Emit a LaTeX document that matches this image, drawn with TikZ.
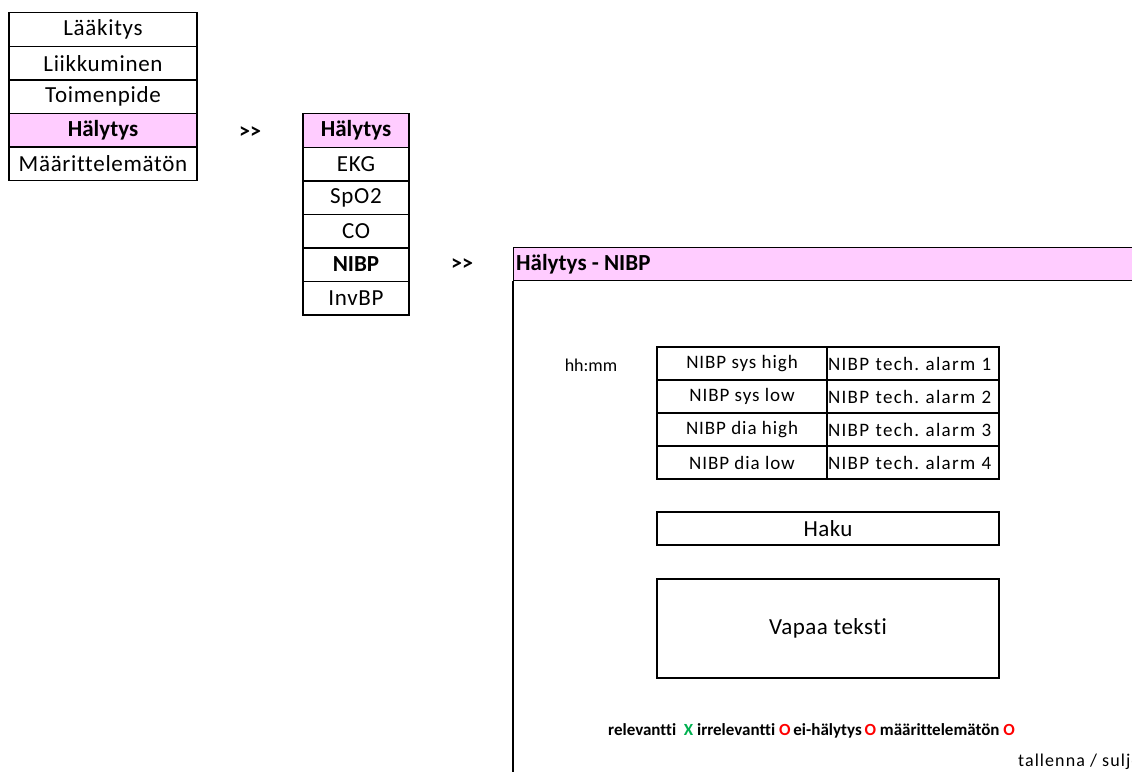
\documentclass[tikz,border=0pt]{standalone}
\usepackage{fontspec}
\setmainfont[Ligatures={NoCommon}]{Carlito}
\frenchspacing
\definecolor{menupink}{HTML}{FFCCFF}
\definecolor{relgreen}{HTML}{00B050}
\definecolor{irrred}{HTML}{FF0000}
\tikzset{
  menuitem/.style={draw, line width=1.4pt, inner sep=0pt, minimum height=33.6pt,
    font=\fontsize{23}{25}\selectfont\addfontfeature{LetterSpace=3}},
  boldmenu/.style={menuitem, font=\fontsize{23}{25}\selectfont\bfseries},
  cell/.style={draw, line width=1.2pt, inner sep=0pt, minimum height=33pt,
    font=\fontsize{19}{21}\selectfont\addfontfeature{LetterSpace=5}},
  techcell/.style={cell, text width=170pt, inner xsep=1pt, align=left,
    font=\fontsize{19}{21}\selectfont\addfontfeature{LetterSpace=7}},
  field/.style={draw, line width=1.4pt, inner sep=0pt, minimum width=342pt,
    font=\fontsize{23}{25}\selectfont\addfontfeature{LetterSpace=2}},
  goes/.style={font=\fontsize{22}{24}\selectfont\bfseries},
}
\begin{document}
\begin{tikzpicture}[x=1pt, y=-1pt]
  \clip (0,0) rectangle (1132,771);
  \fill[white] (0,0) rectangle (1132,771);

  \node[menuitem, minimum width=188pt] at (103, 29.5) (med) {Lääkitys};
  \node[menuitem, minimum width=188pt] at (103, 63.1) (move) {Liikkuminen};
  \node[menuitem, minimum width=188pt] at (103, 96.7) (proc) {Toimenpide};
  \node[boldmenu, minimum width=188pt, fill=menupink] at (103, 130.3) (alarm) {Hälytys};
  \node[menuitem, minimum width=188pt] at (103, 163.9) (undef) {Määrittelemätön};

  \node[goes] at (250, 133) (next1) {>{}>};

  \node[boldmenu, minimum width=106pt, fill=menupink] at (356, 130.5) (sub) {Hälytys};
  \node[menuitem, minimum width=106pt] at (356, 164) (ekg) {EKG};
  \node[menuitem, minimum width=106pt] at (356, 197.5) (spo) {SpO2};
  \node[menuitem, minimum width=106pt] at (356, 231) (co) {CO};
  \node[boldmenu, minimum width=106pt] at (356, 264.5) (nibp) {NIBP};
  \node[menuitem, minimum width=106pt] at (356, 298) (inv) {InvBP};

  \node[goes] at (462, 265) (next2) {>{}>};

  \node[draw, line width=1.4pt, fill=menupink, anchor=north west, minimum width=700pt,
    minimum height=33pt, inner sep=0pt] at (513, 247) (hdr) {};
  \node[anchor=west, inner xsep=3pt, font=\fontsize{23}{25}\selectfont\bfseries]
    at (hdr.west) (title) {Hälytys - NIBP};
  \draw[line width=1.4pt] (hdr.south west) -- ++(0, 500);

  \node[font=\fontsize{18}{20}\selectfont] at (591, 365) (time) {hh:mm};

  \node[cell, minimum width=170pt] at (742, 363.5) (sh) {NIBP sys high};
  \node[cell, minimum width=170pt] at (742, 396.5) (sl) {NIBP sys low};
  \node[cell, minimum width=170pt] at (742, 429.5) (dh) {NIBP dia high};
  \node[cell, minimum width=170pt] at (742, 462.5) (dl) {NIBP dia low};
  \node[techcell] at (913, 363.5) (t1) {NIBP tech. alarm 1};
  \node[techcell] at (913, 396.5) (t2) {NIBP tech. alarm 2};
  \node[techcell] at (913, 429.5) (t3) {NIBP tech. alarm 3};
  \node[techcell] at (913, 462.5) (t4) {NIBP tech. alarm 4};

  \node[field, minimum height=33pt] at (828, 528.5) (search) {Haku};
  \node[field, minimum height=99pt] at (828, 628.5) (free) {Vapaa teksti};

  \node[anchor=west, inner sep=0pt, font=\fontsize{17}{19}\selectfont\bfseries] at (608, 731) (legend)
    {relevantti\ \ \textcolor{relgreen}{X} irrelevantti \textcolor{irrred}{O}\,ei-hälytys\,\textcolor{irrred}{O} määrittelemätön \textcolor{irrred}{O}};
  \node[anchor=west, inner sep=0pt, font=\fontsize{18}{20}\selectfont\addfontfeature{LetterSpace=6}] at (1018, 762) (save) {tallenna / sulje};
\end{tikzpicture}
\end{document}
